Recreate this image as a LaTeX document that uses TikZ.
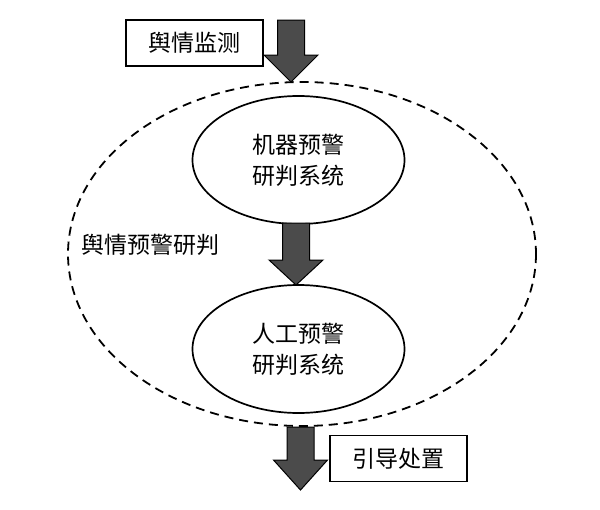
\documentclass[tikz,border=0pt]{standalone}
\usepackage{fontspec}
\setmainfont{Noto Sans CJK SC}
\usetikzlibrary{positioning,shapes.geometric}
\definecolor{arrowgray}{RGB}{75,75,75}
\tikzset{
  labelbox/.style={draw=black, line width=1.8pt, minimum width=137pt, minimum height=46pt, inner sep=0pt},
  sysnode/.style={draw=black, ellipse, line width=1.7pt, minimum width=212pt, minimum height=128pt, align=center, inner sep=0pt},
  bigarrow/.style={draw=black, fill=arrowgray, line width=1pt, line join=miter}
}
% block arrow: x centre, top, start of head, tip
\newcommand{\bigarrow}[4]{%
  \draw[bigarrow] (#1-13.5,#2) -- (#1+13.5,#2) -- (#1+13.5,#3) -- (#1+27,#3)
    -- (#1,#4) -- (#1-27,#3) -- (#1-13.5,#3) -- cycle;}
\begin{document}
\begin{tikzpicture}[x=1pt,y=-1pt, font=\fontsize{23}{29}\selectfont]
\useasboundingbox (0,0) rectangle (600,509);
\draw[line width=1.8pt, dash pattern=on 9pt off 6pt] (302,254) ellipse [x radius=234, y radius=172];
\node[labelbox] (monitor) at (194.5,43) {舆情监测};
\node[labelbox] (guide) at (398.5,458.5) {引导处置};
\node[sysnode] (machine) at (298.5,160) {机器预警\\[2pt]研判系统};
\node[sysnode] (manual) at (298.5,349) {人工预警\\[2pt]研判系统};
\node (judge) at (150,245) {舆情预警研判};
\bigarrow{291}{20}{55}{82}
\bigarrow{296}{223}{260}{285}
\bigarrow{300.5}{427}{460}{490}
\end{tikzpicture}
\end{document}
